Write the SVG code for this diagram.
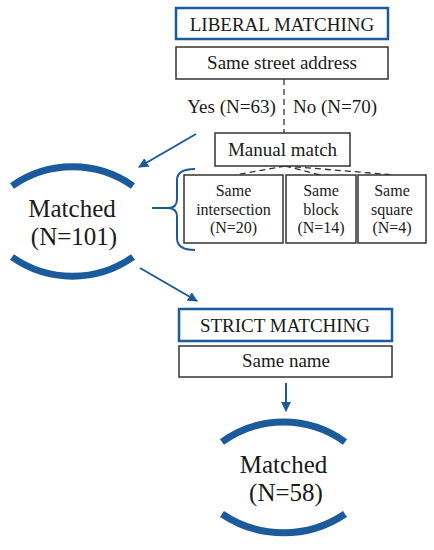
<svg xmlns="http://www.w3.org/2000/svg" width="434" height="550" viewBox="0 0 434 550">
<defs>
<style>
text{font-family:"Liberation Serif","Times New Roman",serif;fill:#1a1a1a;text-anchor:middle}
.t19{font-size:19px}
.t16{font-size:16px}
.t25{font-size:25px}
.box{fill:#fff;stroke:#333;stroke-width:1.5}
.bbox{fill:#fff;stroke:#1b5b9b;stroke-width:2.5}
.arc{fill:none;stroke:#1b5b9b;stroke-width:7}
.dash{fill:none;stroke:#333;stroke-width:1.3;stroke-dasharray:6 4}
.arr{fill:none;stroke:#1b5b9b;stroke-width:2;marker-end:url(#ah)}
.brace{fill:none;stroke:#1b5b9b;stroke-width:2}
</style>
<marker id="ah" viewBox="0 0 10 10" refX="9" refY="5" markerWidth="5" markerHeight="5" orient="auto" markerUnits="strokeWidth">
<path d="M0,0 L10,5 L0,10 Z" fill="#1b5b9b"/>
</marker>
</defs>
<g id="connectors">
<line class="dash" x1="284" y1="79" x2="284" y2="133"/>
<line class="dash" x1="285" y1="166" x2="235" y2="175"/>
<line class="dash" x1="285" y1="166" x2="320" y2="175"/>
<line class="dash" x1="285" y1="166" x2="395" y2="175"/>
<line class="arr" x1="196" y1="134" x2="139" y2="167"/>
<line class="arr" x1="140" y1="268" x2="197" y2="301"/>
<line class="arr" x1="286" y1="383" x2="286" y2="411"/>
<path class="brace" d="M195,169 C183,169 177,172 177,180 L177,199 C177,205 174,208 168,208 L152,208 M168,208 C174,208 177,211 177,217 L177,238 C177,246 183,250 195,250"/>
</g>
<g id="liberal">
<rect class="bbox" x="176" y="8" width="212" height="31"/>
<text class="t19" x="282" y="31">LIBERAL MATCHING</text>
</g>
<g id="street">
<rect class="box" x="176" y="47" width="212" height="32"/>
<text class="t19" x="282" y="69">Same street address</text>
</g>
<g id="labels">
<text class="t19" x="231.5" y="113">Yes (N=63)</text>
<text class="t19" x="335" y="113">No (N=70)</text>
</g>
<g id="manual">
<rect class="box" x="215" y="133" width="135" height="33"/>
<text class="t19" x="282.5" y="156">Manual match</text>
</g>
<g id="intersection">
<rect class="box" x="184" y="175" width="99" height="68"/>
<text class="t16" x="233.5" y="196">Same</text>
<text class="t16" x="233.5" y="215">intersection</text>
<text class="t16" x="233.5" y="233">(N=20)</text>
</g>
<g id="block">
<rect class="box" x="286" y="175" width="70" height="68"/>
<text class="t16" x="321" y="196">Same</text>
<text class="t16" x="321" y="215">block</text>
<text class="t16" x="321" y="233">(N=14)</text>
</g>
<g id="square">
<rect class="box" x="358" y="175" width="68" height="68"/>
<text class="t16" x="392" y="196">Same</text>
<text class="t16" x="392" y="215">square</text>
<text class="t16" x="392" y="233">(N=4)</text>
</g>
<g id="matched1">
<path class="arc" d="M12,186 A105,105 0 0 1 133,186"/>
<path class="arc" d="M12,257 A105,105 0 0 0 133,257"/>
<text class="t25" x="72" y="217">Matched</text>
<text class="t25" x="74" y="245">(N=101)</text>
</g>
<g id="strict">
<rect class="bbox" x="179" y="309" width="213" height="32"/>
<text class="t19" x="285" y="332">STRICT MATCHING</text>
</g>
<g id="samename">
<rect class="box" x="179" y="346" width="213" height="31"/>
<text class="t19" x="286" y="367">Same name</text>
</g>
<g id="matched2">
<path class="arc" d="M222,442 A105,105 0 0 1 345,442"/>
<path class="arc" d="M222,514 A110,110 0 0 0 345,514"/>
<text class="t25" x="283.5" y="473">Matched</text>
<text class="t25" x="286" y="501">(N=58)</text>
</g>
</svg>
